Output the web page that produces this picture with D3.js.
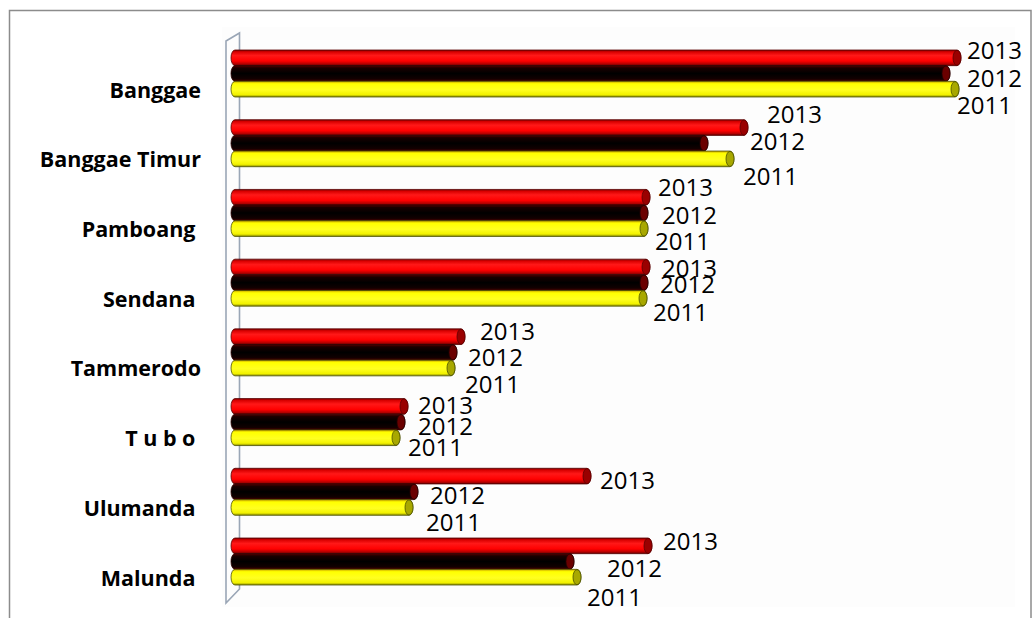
<!DOCTYPE html>
<html>
<head>
<meta charset="utf-8">
<script src="https://cdn.jsdelivr.net/npm/d3@7/dist/d3.min.js"></script>
<style>
  html, body { margin: 0; padding: 0; background: #ffffff; }
  svg { display: block; }
  text { white-space: pre; }
</style>
</head>
<body>
<svg id="chart" width="1032" height="618"></svg>
<script>
// ---- data ----
const categories = ["Banggae", "Banggae Timur", "Pamboang ", "Sendana ", "Tammerodo", "T u b o ", "Ulumanda ", "Malunda "];
const seriesNames = ["2013", "2012", "2011"];
const values2013 = [730, 517, 419, 419, 234, 177, 360, 421];
const values2012 = [719, 477, 417, 417, 226, 174, 187, 343];
const values2011 = [728, 503, 417, 416, 224, 169, 182, 350];

// ---- label placement nudges (layout only: offset from bar end / bar centre) ----
const labelDx = {
  "2013": [6, 19, 8, 12, 15, 10, 9, 11],
  "2012": [17, 42, 14, 12, 11, 13, 12, 33],
  "2011": [-2, 9, 7, 6, 10, 8, 13, 6]
};
const labelDy = {
  "2013": [-7, -13.5, -10, 1.5, -5, -1, 4, -4],
  "2012": [5, -1.5, 3, 1.5, 5, 4, 4, 7],
  "2011": [16, 18, 13, 14, 16, 10, 15, 20]
};

const seriesValues = { "2013": values2013, "2012": values2012, "2011": values2011 };

const svg = d3.select("#chart");
const defs = svg.append("defs");

// gradients for cylinders
const grads = {
  "2013": [[0, "#7a0000"], [0.12, "#d80000"], [0.35, "#ff1818"], [0.7, "#ff0000"], [0.9, "#b00000"], [1, "#500000"]],
  "2012": [[0, "#5a0000"], [0.15, "#1a0000"], [0.5, "#000000"], [0.85, "#120000"], [1, "#500000"]],
  "2011": [[0, "#c8a000"], [0.15, "#ffff00"], [0.55, "#ffff20"], [0.85, "#f2f200"], [1, "#8a8a00"]]
};
const capFill = { "2013": "#9a0000", "2012": "#6a0000", "2011": "#a8a800" };
const strokeCol = { "2013": "#5a0000", "2012": "#2a0000", "2011": "#4a5000" };
Object.keys(grads).forEach(k => {
  const g = defs.append("linearGradient").attr("id", "g" + k)
    .attr("x1", 0).attr("y1", 0).attr("x2", 0).attr("y2", 1);
  grads[k].forEach(s => g.append("stop").attr("offset", s[0]).attr("stop-color", s[1]));
});

// scales
const x = d3.scaleLinear().domain([0, 800]).range([231, 1031]);
const y = d3.scaleBand().domain(categories).range([50, 585]).paddingInner(0.326).paddingOuter(0);
const ySub = d3.scaleBand().domain(seriesNames).range([0, y.bandwidth()]).padding(0);

// frame
svg.append("rect").attr("x", 9.5).attr("y", 10.5).attr("width", 1021.5).attr("height", 700)
  .attr("fill", "none").attr("stroke", "#8c8c8c").attr("stroke-width", 1.5);

// faint plot area
svg.append("rect").attr("x", 222).attr("y", 27).attr("width", 793).attr("height", 580)
  .attr("fill", "#fdfdfd");

// 3D wall edge
const wall = svg.append("g").attr("fill", "none").attr("stroke", "#9aa6b6").attr("stroke-width", 1.6);
wall.append("path").attr("d", "M226,41 L239.5,33 L239.5,589 L226,603 Z");

// category labels
svg.append("g").selectAll("text").data(categories).join("text")
  .attr("x", 201)
  .attr("y", d => y(d) + 40 + 7.6)
  .attr("text-anchor", "end")
  .attr("font-family", "'Open Sans', sans-serif")
  .attr("font-weight", "bold")
  .attr("font-size", 21.5)
  .attr("fill", "#000")
  .text(d => d);

// bars (cylinders)
const rx = 4;
const barData = [];
categories.forEach((c, i) => {
  seriesNames.forEach(s => {
    barData.push({ cat: c, i: i, s: s, v: seriesValues[s][i] });
  });
});

const bars = svg.append("g");
bars.selectAll("g.bar").data(barData).join("g").attr("class", "bar").each(function (d) {
  const g = d3.select(this);
  const y0 = y(d.cat) + ySub(d.s);
  const h = ySub.bandwidth();
  const x0 = x(0), x1 = x(d.v);
  const ry = h / 2;
  const body = `M${x0 + rx},${y0} L${x1 - rx},${y0} A${rx},${ry} 0 0 1 ${x1 - rx},${y0 + h} L${x0 + rx},${y0 + h} A${rx},${ry} 0 0 1 ${x0 + rx},${y0} Z`;
  g.append("path").attr("d", body).attr("fill", `url(#g${d.s})`)
    .attr("stroke", strokeCol[d.s]).attr("stroke-width", 0.8);
  g.append("ellipse").attr("cx", x1 - rx).attr("cy", y0 + ry).attr("rx", rx).attr("ry", ry - 0.3)
    .attr("fill", capFill[d.s]).attr("stroke", strokeCol[d.s]).attr("stroke-width", 0.8);
});

// value (series name) labels
svg.append("g").selectAll("text").data(barData).join("text")
  .attr("x", d => x(d.v) + labelDx[d.s][d.i])
  .attr("y", d => y(d.cat) + ySub(d.s) + ySub.bandwidth() / 2 + labelDy[d.s][d.i] + 8.5)
  .attr("font-family", "'Open Sans', sans-serif")
  .attr("font-size", 24)
  .attr("fill", "#000")
  .text(d => d.s);
</script>
</body>
</html>
